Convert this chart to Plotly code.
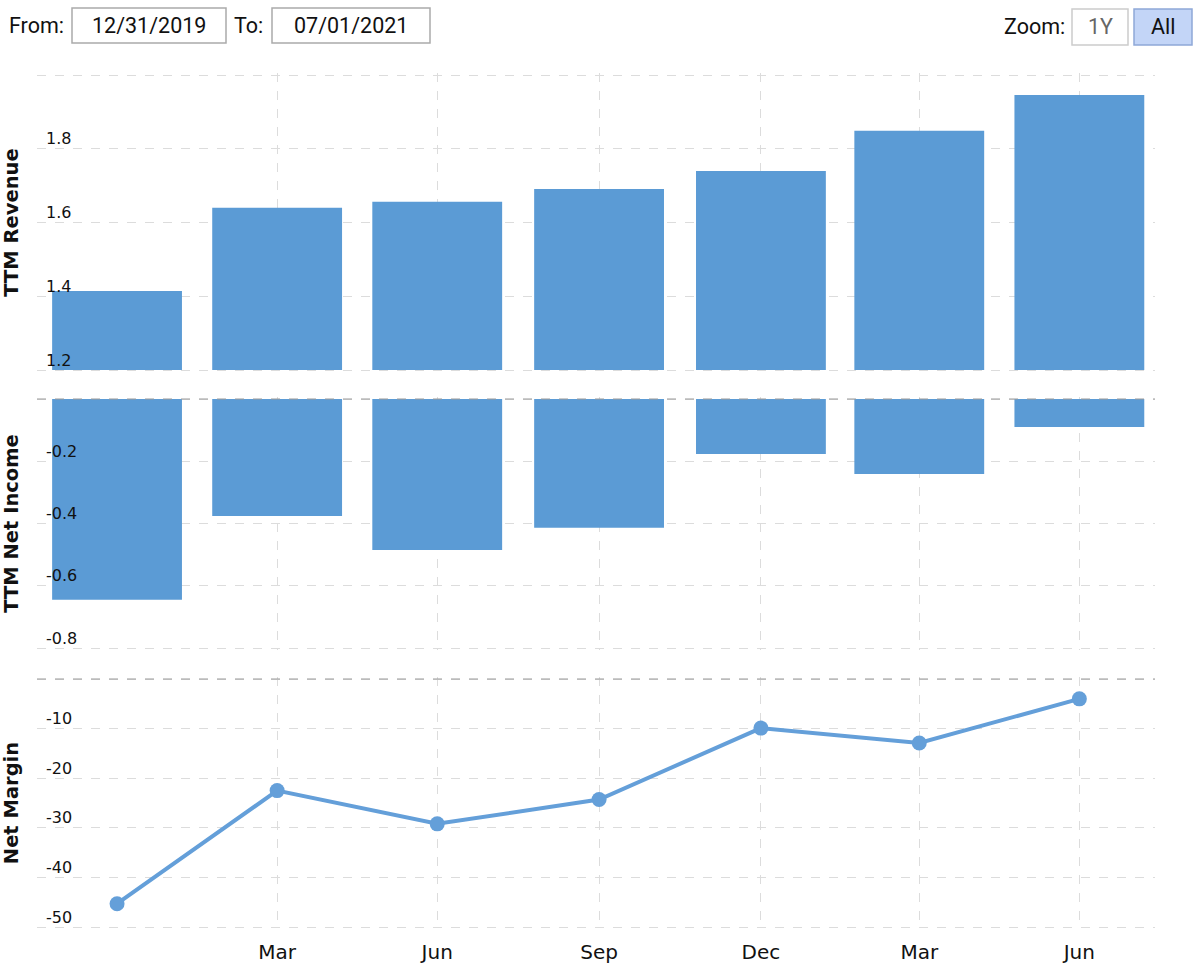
import plotly.graph_objects as go

dates = ["2019-12-31", "2020-03-31", "2020-06-30", "2020-09-30",
         "2020-12-31", "2021-03-31", "2021-06-30"]
revenue = [1.414, 1.640, 1.656, 1.691, 1.740, 1.849, 1.946]
net_income = [-0.645, -0.376, -0.485, -0.414, -0.177, -0.241, -0.090]
net_margin = [-45.3, -22.5, -29.2, -24.3, -9.9, -12.9, -4.0]
x_tick_vals = dates[1:]
x_tick_text = ["Mar", "Jun", "Sep", "Dec", "Mar", "Jun"]

rev_ticks = [1.2, 1.4, 1.6, 1.8, 2.0]
ni_ticks = [0, -0.2, -0.4, -0.6, -0.8]
nm_ticks = [0, -10, -20, -30, -40, -50]

BAR = "#5b9bd5"
LINE = "#649fd9"
GRID = "#dcdcdc"
FONT = "DejaVu Sans"

fig = go.Figure()
fig.add_trace(go.Bar(x=dates, y=[r - 1.2 for r in revenue], base=1.2,
                     marker=dict(color=BAR, line_width=0), xaxis="x", yaxis="y3"))
fig.add_trace(go.Bar(x=dates, y=net_income, marker=dict(color=BAR, line_width=0),
                     xaxis="x", yaxis="y2"))
fig.add_trace(go.Scatter(x=dates, y=net_margin, mode="lines+markers",
                         line=dict(color=LINE, width=4),
                         marker=dict(color=LINE, size=15),
                         xaxis="x", yaxis="y"))

PAD = 2  # px of padding so the edge gridlines are drawn
L, R, T, B = 37, 45, 75 - PAD, 969 - 927 - PAD
PW, PH = 1200 - L - R, 969 - T - B

def pane(top_px, bot_px, top_val, bot_val):
    """domain & range for a pane whose top_val sits at top_px and bot_val at bot_px"""
    per_px = (top_val - bot_val) / (bot_px - top_px)
    rng = [bot_val - PAD * per_px, top_val + PAD * per_px]
    d0 = (969 - B - (bot_px + PAD)) / PH
    d1 = (969 - B - (top_px - PAD)) / PH
    return [max(0.0, d0), min(1.0, d1)], rng

d3, r3 = pane(75, 370, 2.0, 1.2)
d2, r2 = pane(399, 648, 0.0, -0.8)
d1, r1 = pane(679, 927, 0.0, -50.0)

common_y = dict(showgrid=True, gridcolor=GRID, griddash="dash", gridwidth=1,
                zeroline=False, showline=False, ticks="", automargin=False,
                ticklabelposition="inside", ticklabelstandoff=6,
                ticklabelshift=-10,
                tickfont=dict(family=FONT, size=16, color="#111111"),
                fixedrange=True)

def title(t):
    return dict(text="<b>%s</b>" % t, font=dict(family=FONT, size=19.5, color="#111111"),
                standoff=22)

fig.update_layout(
    width=1200, height=969,
    margin=dict(l=L, r=R, t=T, b=B),
    paper_bgcolor="white", plot_bgcolor="white",
    showlegend=False, bargap=0.18,
    xaxis=dict(type="date", range=["2019-11-15 12:00", "2021-08-12"],
               anchor="y", tickvals=x_tick_vals, ticktext=x_tick_text,
               showgrid=True, gridcolor=GRID, griddash="dash", gridwidth=1,
               zeroline=False, showline=False, ticks="", ticklabelstandoff=9,
               automargin=False,
               tickfont=dict(family=FONT, size=20, color="#111111")),
    yaxis=dict(domain=d1, range=r1, tickvals=nm_ticks,
               ticktext=["" if v == 0 else str(v) for v in nm_ticks],
               title=title("Net Margin"), **common_y),
    yaxis2=dict(domain=d2, range=r2, tickvals=ni_ticks,
                ticktext=["" if v == 0 else "%.1f" % v for v in ni_ticks],
                title=title("TTM Net Income"), **common_y),
    yaxis3=dict(domain=d3, range=r3, tickvals=rev_ticks,
                ticktext=["" if v == 2.0 else "%.1f" % v for v in rev_ticks],
                title=title("TTM Revenue"), **common_y),
)

# darker dashed separators at the zero lines
fig.add_shape(type="line", xref="paper", x0=0, x1=1, yref="y2", y0=0, y1=0,
              line=dict(color="#999999", width=1, dash="dash"), layer="above")
fig.add_shape(type="line", xref="paper", x0=0, x1=1, yref="y", y0=0, y1=0,
              line=dict(color="#999999", width=1, dash="dash"), layer="above")

# header controls (pixel positions converted to paper coordinates)
HF = "Roboto"
def px_x(v):
    return (v - L) / PW
def px_y(v):
    return (969 - B - v) / PH

def box(x0, x1, y0, y1, fill="white", border="#aaaaaa"):
    fig.add_shape(type="rect", xref="paper", yref="paper",
                  x0=px_x(x0), x1=px_x(x1), y0=px_y(y1), y1=px_y(y0),
                  line=dict(color=border, width=1.5), fillcolor=fill)

def text(x, y, s, anchor="left", color="#111111", size=21.5):
    fig.add_annotation(xref="paper", yref="paper", x=px_x(x), y=px_y(y), text=s,
                       showarrow=False, xanchor=anchor, yanchor="middle",
                       font=dict(family=HF, size=size, color=color))

text(7, 26, "From:")
box(72, 226, 8, 43)
text(149, 26, "12/31/2019", anchor="center")
text(232, 26, "To:")
box(272, 430, 8, 43)
text(351, 26, "07/01/2021", anchor="center")
text(1067, 27, "Zoom:", anchor="right")
box(1072, 1128, 9, 45, border="#cccccc")
text(1100, 27, "1Y", anchor="center", color="#666666")
box(1134, 1192, 9, 45, fill="#c3d5f7", border="#8fa8d8")
text(1163, 27, "All", anchor="center", color="#111111")

fig.write_html("out.html")
